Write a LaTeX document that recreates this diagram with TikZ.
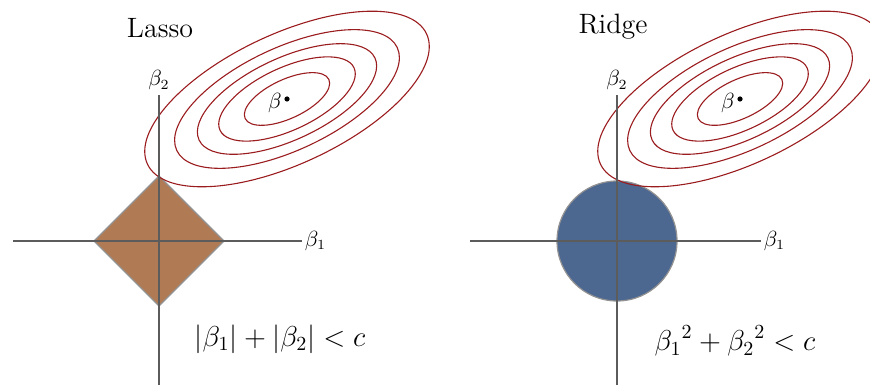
\documentclass[tikz,border=0pt]{standalone}
\usepackage{amsmath,amssymb}
\usepackage{tikz}
\usetikzlibrary{positioning,calc}
\definecolor{contourred}{HTML}{9A1C1F}
\definecolor{lassofill}{HTML}{B07A55}
\definecolor{ridgefill}{HTML}{4C6790}
\definecolor{axisgray}{HTML}{5C5C5C}

\begin{document}
\begin{tikzpicture}[x=0.5pt,y=0.5pt,
  axis/.style={draw=axisgray,line width=0.75pt},
  contour/.style={draw=contourred,line width=0.55pt},
  region/.style={draw=gray!85,line width=0.6pt},
  title/.style={font=\fontsize{14}{16}\selectfont},
  axlabel/.style={font=\fontsize{10.5}{12}\selectfont,inner sep=1pt},
  constraint/.style={font=\fontsize{14}{16}\selectfont}]
\useasboundingbox (0,0) rectangle (870,385);
% Lasso
\fill[lassofill,region] (159,209) -- (224,144) -- (159,79) -- (94,144) -- cycle;
\coordinate (lcen) at (287,286);
\foreach \s in {1,0.79,0.63,0.48,0.30} {\draw[contour,rotate around={25:(lcen)}] (lcen) ellipse [x radius=154*\s, y radius=65*\s];}
\fill (lcen) circle (2.6);
\node[axlabel,left] (lhat) at (284,282) {$\beta$};
\coordinate (lxa) at (13,144); \coordinate (lxb) at (302,144);
\coordinate (lya) at (159,0); \coordinate (lyb) at (159,290);
\draw[axis] (lxa) -- (lxb) node[axlabel,right] (lb1) {$\beta_1$};
\draw[axis] (lya) -- (lyb) node[axlabel,above=1pt] (lb2) {$\beta_2$};
\node[title] (lasso) at (160,357) {Lasso};
\node[constraint] (lcon) at (280,46) {$|\beta_1| + |\beta_2| < c$};
% Ridge
\fill[ridgefill,region] (617,144) circle (60);
\coordinate (rcen) at (740,286);
\foreach \s in {1,0.79,0.63,0.48,0.30} {\draw[contour,rotate around={25:(rcen)}] (rcen) ellipse [x radius=154*\s, y radius=65*\s];}
\fill (rcen) circle (2.6);
\node[axlabel,left] (rhat) at (737,282) {$\beta$};
\coordinate (rxa) at (470,144); \coordinate (rxb) at (761,144);
\coordinate (rya) at (617,0); \coordinate (ryb) at (617,290);
\draw[axis] (rxa) -- (rxb) node[axlabel,right] (rb1) {$\beta_1$};
\draw[axis] (rya) -- (ryb) node[axlabel,above=1pt] (rb2) {$\beta_2$};
\node[title] (ridge) at (613,358) {Ridge};
\node[constraint] (rcon) at (735,44) {${\beta_1}^2 + {\beta_2}^2 < c$};
\end{tikzpicture}
\end{document}
